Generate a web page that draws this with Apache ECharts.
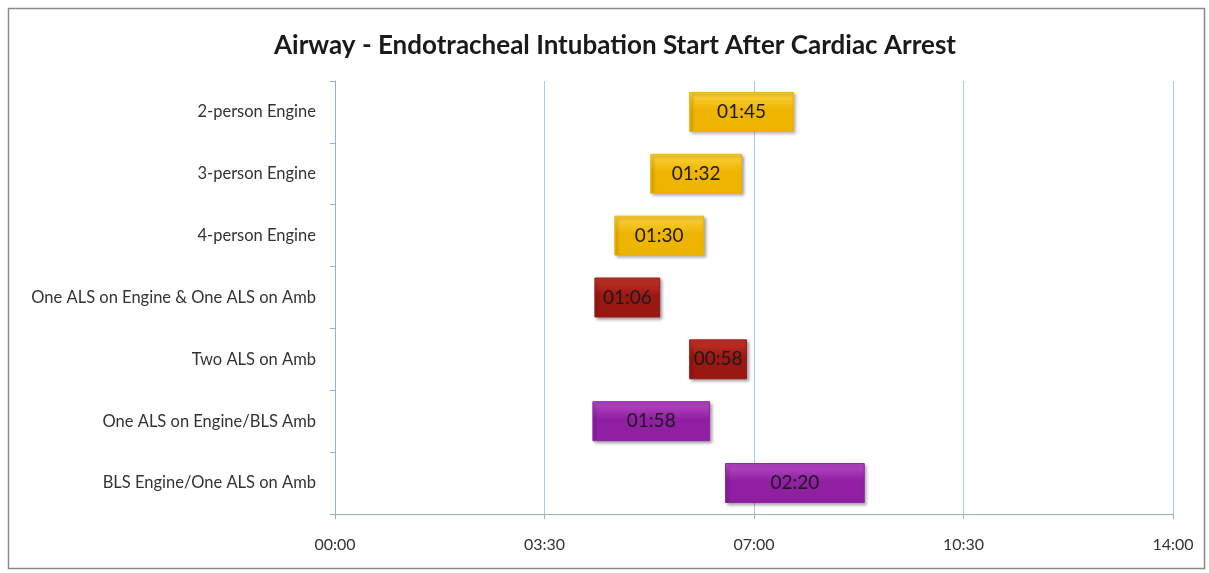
<!DOCTYPE html>
<html>
<head>
<meta charset="utf-8">
<script src="https://cdn.jsdelivr.net/npm/echarts@6/dist/echarts.min.js"></script>
<style>
  html, body { margin: 0; padding: 0; background: #fff; }
  #chart { width: 1209px; height: 573px; }
</style>
</head>
<body>
<div id="chart"></div>
<script>
// crew configurations, top to bottom
const categories = [
  '2-person Engine',
  '3-person Engine',
  '4-person Engine',
  'One ALS on Engine & One ALS on Amb',
  'Two ALS on Amb',
  'One ALS on Engine/BLS Amb',
  'BLS Engine/One ALS on Amb'
]
// seconds after arrest when intubation starts (bar left edge)
const startSec = [355, 316, 280, 260, 355, 258, 391]
// duration of intubation in seconds (bar length, shown as label)
const durationSec = [105, 92, 90, 66, 58, 118, 140]
// colour group per row: 0 engine, 1 two-ALS, 2 mixed
const groupOf = [0, 0, 0, 1, 1, 2, 2]
const groupColors = [
  ['#FBD443', '#EFB400'],
  ['#C8352C', '#9A1812'],
  ['#B94CC8', '#901FA2']
]
const xTicks = [0, 210, 420, 630, 840]

function mmss(v) {
  const m = Math.floor(v / 60)
  const s = Math.round(v % 60)
  return String(m).padStart(2, '0') + ':' + String(s).padStart(2, '0')
}

const chart = echarts.init(document.getElementById('chart'))

const durData = durationSec.map((d, i) => {
  const c = groupColors[groupOf[i]]
  return {
    value: d,
    itemStyle: {
      color: new echarts.graphic.LinearGradient(0, 0, 0, 1, [
        { offset: 0, color: c[0] },
        { offset: 0.45, color: c[1] },
        { offset: 1, color: c[1] }
      ]),
      borderColor: c[1],
      borderWidth: 1,
      shadowBlur: 3,
      shadowOffsetX: 2,
      shadowOffsetY: 2,
      shadowColor: 'rgba(0,0,0,0.35)'
    }
  }
})

const option = {
  backgroundColor: '#fff',
  animation: false,
  title: {
    text: 'Airway - Endotracheal Intubation Start After Cardiac Arrest',
    left: 610,
    top: 28,
    textAlign: 'center',
    textStyle: {
      fontFamily: 'Lato',
      fontWeight: 'bold',
      fontSize: 26,
      color: '#1a1a1a'
    }
  },
  graphic: [{
    type: 'rect',
    shape: { x: 8.5, y: 8.5, width: 1196, height: 560 },
    style: { fill: 'none', stroke: '#8a8a8a', lineWidth: 1.5 },
    silent: true
  }],
  grid: { left: 335, right: 36, top: 81, bottom: 59 },
  xAxis: {
    type: 'value',
    min: xTicks[0],
    max: xTicks[xTicks.length - 1],
    interval: 210,
    axisLine: { show: true, lineStyle: { color: '#8FB3C8', width: 1 } },
    axisTick: { show: true, length: 5, lineStyle: { color: '#8FB3C8' } },
    axisLabel: {
      formatter: mmss,
      margin: 23,
      fontFamily: 'Lato',
      fontSize: 16,
      color: '#333'
    },
    splitLine: { show: true, lineStyle: { color: '#A9CBE8', width: 1 } }
  },
  yAxis: {
    type: 'category',
    data: categories,
    inverse: true,
    axisLine: { show: true, lineStyle: { color: '#8FB3C8' } },
    axisTick: { show: true, length: 5, lineStyle: { color: '#8FB3C8' } },
    axisLabel: {
      margin: 19,
      fontFamily: 'Lato',
      fontSize: 16.5,
      color: '#333'
    }
  },
  series: [
    {
      type: 'bar',
      stack: 'gantt',
      data: startSec,
      barWidth: 40,
      itemStyle: { color: 'transparent' },
      silent: true
    },
    {
      type: 'bar',
      stack: 'gantt',
      data: durData,
      barWidth: 40,
      label: {
        show: true,
        position: 'inside',
        formatter: p => mmss(p.value),
        fontFamily: 'Lato',
        fontSize: 19,
        color: '#1a1a1a'
      }
    }
  ]
}

chart.setOption(option)
</script>
</body>
</html>
